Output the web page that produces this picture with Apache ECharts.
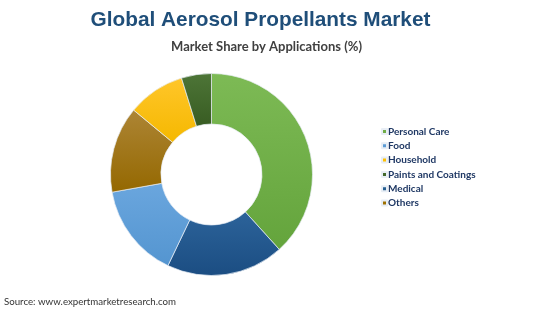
<!DOCTYPE html>
<html><head><meta charset="utf-8">
<script src="https://cdn.jsdelivr.net/npm/echarts@6/dist/echarts.min.js"></script>
<style>html,body{margin:0;padding:0;background:#fff}#c{width:550px;height:309px}</style>
</head><body><div id="c"></div>
<script>
const categories = ['Personal Care','Medical','Food','Others','Household','Paints and Coatings'];
const values = [38.3, 18.8, 15.1, 13.8, 9.2, 4.8];
const legendOrder = ['Personal Care','Food','Household','Paints and Coatings','Medical','Others'];
const colorsTop = {'Personal Care':'#7dba55','Medical':'#2c639a','Food':'#6aa6de','Others':'#ad8535','Household':'#ffc62a','Paints and Coatings':'#4d7537'};
const colorsBottom = {'Personal Care':'#64a43c','Medical':'#1b4d82','Food':'#5495d0','Others':'#946800','Household':'#f5b800','Paints and Coatings':'#385c22'};
const legendColors = {'Personal Care':'#70ad47','Medical':'#255e91','Food':'#5b9bd5','Others':'#9e7000','Household':'#ffc000','Paints and Coatings':'#43682b'};

const chart = echarts.init(document.getElementById('c'), null, {renderer:'canvas'});
chart.setOption({
  animation:false,
  graphic:[
    {type:'text', x:260.5, y:20.5, style:{text:'Global Aerosol Propellants Market', align:'center', verticalAlign:'middle',
      font:'bold 20.8px "Liberation Sans", Arial', fill:'#1f4e79'}},
    {type:'text', x:266.5, y:47, style:{text:'Market Share by Applications (%)', align:'center', verticalAlign:'middle',
      font:'bold 13px Lato', fill:'#404040'}},
    {type:'text', x:4, y:302, style:{text:'Source: www.expertmarketresearch.com', align:'left', verticalAlign:'middle',
      font:'9.7px Lato', fill:'#333333'}}
  ],
  legend:{
    orient:'vertical', left:381, top:126.5, itemWidth:5, itemHeight:5, itemGap:4.3, padding:0,
    icon:'rect', data:legendOrder.map(n=>({name:n, itemStyle:{color:legendColors[n]}})),
    textStyle:{fontFamily:'Lato', fontWeight:'bold', fontSize:10, color:'#1f3864', padding:[0,0,0,-4]}
  },
  series:[{
    type:'pie', center:[211.5,174.5], radius:[50.5,101], startAngle:90, clockwise:true,
    label:{show:false}, labelLine:{show:false}, silent:true,
    itemStyle:{borderColor:'#e8eef5', borderWidth:0.7},
    data:categories.map((n,i)=>({name:n, value:values[i], itemStyle:{color:new echarts.graphic.LinearGradient(0,0,0,1,[{offset:0,color:colorsTop[n]},{offset:1,color:colorsBottom[n]}])}}))
  }]
});
</script></body></html>
